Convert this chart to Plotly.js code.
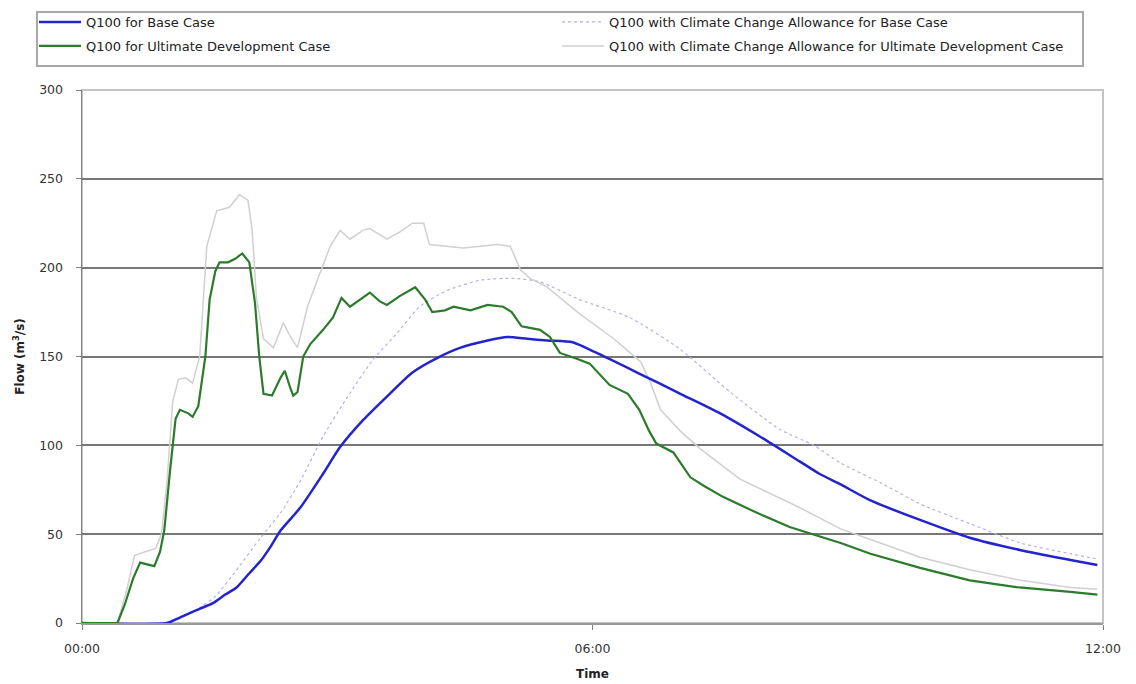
<!DOCTYPE html>
<html>
<head>
<meta charset="utf-8">
<script src="https://cdn.plot.ly/plotly-3.0.1.min.js"></script>
<style>
  html, body { margin: 0; padding: 0; background: #ffffff; }
  #chart { width: 1136px; height: 684px; }
</style>
</head>
<body>
<div id="chart"></div>
<script>
// Flow hydrographs, time in minutes from 00:00, flow in m3/s

// Q100 for Base Case
const baseTime = [0, 60, 69, 76, 83, 92, 101, 109, 118, 126, 133, 140, 154, 170, 182, 198, 217, 233, 250, 267, 286, 300, 314, 328, 346, 363, 394, 422, 450, 478, 506, 520, 535, 556, 591, 626, 662, 697, 716];
const baseFlow = [0, 0, 3, 5.6, 8, 11, 16, 20, 28, 35, 43, 52, 65, 84, 99, 114, 129, 141, 149, 155, 159, 161, 160, 159, 158, 152, 140, 129, 118, 105, 91, 84, 78, 69, 58, 48, 41, 35.5, 32.6];

// Q100 with Climate Change Allowance for Base Case
const baseCCTime = [0, 58, 69, 80, 94, 111, 126, 140, 154, 170, 187, 205, 222, 238, 257, 281, 304, 323, 351, 386, 422, 457, 492, 516, 535, 563, 591, 626, 662, 697, 716];
const baseCCFlow = [0, 0, 3, 7, 15, 32, 48, 62, 80, 105, 127, 148, 163, 178, 187, 193, 194, 192, 182, 172, 154, 130, 109, 100, 90, 79, 67, 56, 45, 39, 36];

// Q100 for Ultimate Development Case
const udTime = [0, 25, 30, 36, 41, 46, 51, 55, 58, 62, 66, 69, 75, 78, 82, 87, 90, 94, 97, 103, 108, 113, 118, 122, 125, 128, 134, 140, 143, 147, 149, 152, 156, 161, 170, 177, 183, 189, 196, 203, 210, 215, 224, 235, 242, 247, 256, 262, 274, 286, 297, 303, 310, 323, 330, 337, 348, 358, 372, 385, 393, 400, 405, 417, 429, 439, 452, 476, 499, 520, 535, 556, 591, 626, 661, 697, 716];
const udFlow = [0, 0, 10, 25, 34, 33, 32, 40, 52, 85, 115, 120, 118, 116, 122, 150, 182, 198, 203, 203, 205, 208, 203, 180, 150, 129, 128, 138, 142, 132, 128, 130, 150, 157, 165, 172, 183, 178, 182, 186, 181, 179, 184, 189, 182, 175, 176, 178, 176, 179, 178, 175, 167, 165, 161, 152, 149, 146, 134, 129, 120, 108, 101, 96, 82, 77, 71, 62, 54, 49, 45, 39, 31, 24, 20, 17.5, 16];

// Q100 with Climate Change Allowance for Ultimate Development Case
const udCCTime = [0, 25, 32, 37, 44, 52, 56, 60, 64, 68, 73, 78, 83, 88, 95, 104, 111, 117, 120, 123, 128, 135, 142, 147, 152, 159, 166, 175, 182, 189, 198, 203, 215, 224, 233, 241, 245, 269, 293, 302, 307, 309, 316, 328, 351, 375, 394, 401, 408, 422, 436, 464, 506, 535, 563, 591, 626, 662, 697, 716];
const udCCFlow = [0, 0, 20, 38, 40, 42, 50, 80, 125, 137, 138, 135, 150, 212, 232, 234, 241, 238, 221, 183, 160, 155, 169, 161, 155, 178, 193, 212, 221, 216, 221, 222, 216, 220, 225, 225, 213, 211, 213, 212, 203, 199, 194, 189, 174, 160, 147, 135, 120, 108, 98, 81, 65, 53, 45, 37, 30, 24, 20, 19];

const seriesNames = [
  'Q100 for Base Case',
  'Q100 with Climate Change Allowance for Base Case',
  'Q100 for Ultimate Development Case',
  'Q100 with Climate Change Allowance for Ultimate Development Case'
];

const timeTickVals = [0, 360, 720];
const timeTickText = ['00:00', '06:00', '12:00'];

const font = 'DejaVu Sans, Verdana, sans-serif';

const traces = [
  { // faint climate-change curves drawn first, underneath
    x: baseCCTime, y: baseCCFlow, name: seriesNames[1], legend: 'legend', legendrank: 2,
    mode: 'lines', line: { color: '#b2b2ea', width: 1.2, dash: 'dot', shape: 'spline', smoothing: 0.6 }
  },
  {
    x: udCCTime, y: udCCFlow, name: seriesNames[3], legend: 'legend2', legendrank: 2,
    mode: 'lines', line: { color: '#d0d0d0', width: 1.5 }
  },
  {
    x: baseTime, y: baseFlow, name: seriesNames[0], legend: 'legend', legendrank: 1,
    mode: 'lines', line: { color: '#2424cc', width: 2.5, shape: 'spline', smoothing: 0.6 }
  },
  {
    x: udTime, y: udFlow, name: seriesNames[2], legend: 'legend2', legendrank: 1,
    mode: 'lines', line: { color: '#2c7a2c', width: 2.2 }
  }
];

// one legend row per legend object, framed by a shared box
const legendRow = (yPos) => ({
  orientation: 'h',
  x: -0.047, xanchor: 'left',
  y: yPos, yanchor: 'middle',
  itemwidth: 42,
  entrywidth: 466, entrywidthmode: 'pixels',
  bgcolor: 'rgba(0,0,0,0)',
  borderwidth: 0,
  font: { family: font, size: 13, color: '#222222' },
  traceorder: 'normal'
});

const layout = {
  width: 1136,
  height: 684,
  paper_bgcolor: '#ffffff',
  plot_bgcolor: '#ffffff',
  margin: { l: 82, r: 33, t: 90, b: 61, autoexpand: false },
  font: { family: font, size: 12, color: '#222222' },
  showlegend: true,
  legend: legendRow(1.1276),
  legend2: legendRow(1.0826),
  xaxis: {
    range: [0, 720],
    tickmode: 'array',
    tickvals: timeTickVals,
    ticktext: timeTickText,
    ticks: 'outside',
    ticklen: 5,
    tickcolor: '#808080',
    ticklabelstandoff: 8,
    tickfont: { family: font, size: 12.5, color: '#333333' },
    showgrid: false,
    zeroline: false,
    showline: true,
    linecolor: '#9a9a9a',
    linewidth: 1.5,
    title: { text: '<b>Time</b>', font: { family: font, size: 12, color: '#222222' }, standoff: 15 }
  },
  yaxis: {
    range: [0, 300],
    tick0: 0,
    dtick: 50,
    ticks: 'outside',
    ticklen: 5,
    tickcolor: '#808080',
    ticklabelstandoff: 10,
    tickfont: { family: font, size: 12.5, color: '#333333' },
    showgrid: true,
    gridcolor: '#777777',
    gridwidth: 2,
    zeroline: false,
    showline: true,
    linecolor: '#808080',
    linewidth: 1.5,
    title: { text: '<b>Flow (m<sup>3</sup>/s)</b>', font: { family: font, size: 12, color: '#222222' }, standoff: 12 }
  },
  shapes: [
    { // plot area frame
      type: 'rect', xref: 'paper', yref: 'paper', x0: 0, x1: 1, y0: 0, y1: 1,
      line: { color: '#c4c4c4', width: 2 }, layer: 'below'
    },
    { // legend box
      type: 'rect', xref: 'paper', yref: 'paper', x0: -0.0441, x1: 0.9804, y0: 1.045, y1: 1.1463,
      line: { color: '#a8a8a8', width: 2 }, fillcolor: 'rgba(0,0,0,0)', layer: 'above'
    }
  ]
};

Plotly.newPlot('chart', traces, layout, { staticPlot: true, displayModeBar: false });
</script>
</body>
</html>
